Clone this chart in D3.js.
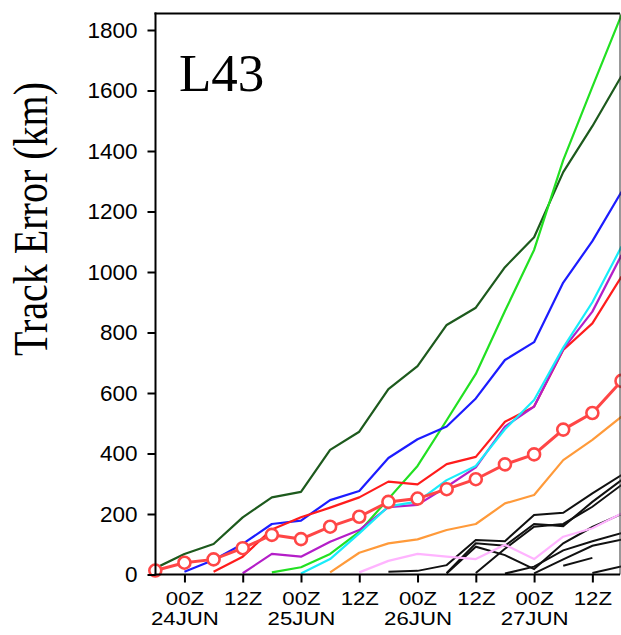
<!DOCTYPE html>
<html>
<head>
<meta charset="utf-8">
<script src="https://cdn.jsdelivr.net/npm/d3@7"></script>
<style>
  body { margin: 0; background: #fff; }
  svg { display: block; }
</style>
</head>
<body>
<div id="chart"></div>
<script>
// six-hourly valid times, 18Z 23JUN .. 18Z 27JUN
const times = [
  "2000-06-23T18:00Z", "2000-06-24T00:00Z", "2000-06-24T06:00Z", "2000-06-24T12:00Z",
  "2000-06-24T18:00Z", "2000-06-25T00:00Z", "2000-06-25T06:00Z", "2000-06-25T12:00Z",
  "2000-06-25T18:00Z", "2000-06-26T00:00Z", "2000-06-26T06:00Z", "2000-06-26T12:00Z",
  "2000-06-26T18:00Z", "2000-06-27T00:00Z", "2000-06-27T06:00Z", "2000-06-27T12:00Z",
  "2000-06-27T18:00Z"
];
const _ = null;

// track errors (km)
const meanErr   = [13, 39, 50, 87, 131, 117, 158, 191, 240, 251, 282, 315, 364, 397, 479, 534, 640];
const darkGreen = [21, 68, 101, 189, 255, 273, 412, 472, 613, 689, 825, 882, 1016, 1115, 1330, 1482, 1648];
const green     = [_, _, _, _, 7, 24, 68, 141, 250, 359, 510, 663, 871, 1073, 1370, 1612, 1850];
const blue      = [_, 9, 48, 101, 167, 178, 246, 276, 385, 447, 489, 582, 709, 768, 965, 1102, 1265];
const red       = [_, _, 9, 59, 149, 189, 221, 255, 307, 298, 365, 389, 505, 555, 742, 830, 985];
const purple    = [_, _, _, 4, 68, 59, 108, 147, 223, 230, 290, 354, 489, 555, 745, 869, 1056];
const cyan      = [_, _, _, _, _, 3, 51, 136, 225, 241, 312, 359, 480, 577, 750, 900, 1084];
const orange    = [_, _, _, _, _, _, 7, 72, 103, 116, 147, 167, 235, 263, 378, 445, 522];
const pink      = [_, _, _, _, _, _, _, 7, 45, 68, 59, 51, 98, 51, 125, 153, 202];

const black1 = [_, _, _, _, _, _, _, _, 9, 12, 31, 114, 110, 197, 204, 268, 329];
const black2 = [_, _, _, _, _, _, _, _, _, _, 5, 103, 95, 167, 160, 240, 312];
const black3 = [_, _, _, _, _, _, _, _, _, _, 3, 92, 64, 18, 103, 157, 200];
const black4 = [_, _, _, _, _, _, _, _, _, _, _, 5, 85, 158, 167, 224, 296];
const black5 = [_, _, _, _, _, _, _, _, _, _, _, _, 3, 26, 80, 110, 137];
const black6 = [_, _, _, _, _, _, _, _, _, _, _, _, _, 4, 50, 95, 115];
const black7 = [_, _, _, _, _, _, _, _, _, _, _, _, _, _, 29, 55, _];
const black8 = [_, _, _, _, _, _, _, _, _, _, _, _, _, _, _, 5, 27];

const yTicks = [0, 200, 400, 600, 800, 1000, 1200, 1400, 1600, 1800];
const xTicks = [
  "2000-06-24T00:00Z", "2000-06-24T12:00Z", "2000-06-25T00:00Z", "2000-06-25T12:00Z",
  "2000-06-26T00:00Z", "2000-06-26T12:00Z", "2000-06-27T00:00Z", "2000-06-27T12:00Z"
];

const width = 621;
const height = 635;
const plotLeft = 155.5, plotRight = 620, plotTop = 13.5, plotBottom = 574.5;

const svg = d3.select("#chart").append("svg")
  .attr("width", width)
  .attr("height", height);

const dates = times.map((t) => new Date(t));

const x = d3.scaleUtc()
  .domain([dates[0], dates[dates.length - 1]])
  .range([155.3, 621.5]);

const y = d3.scaleLinear()
  .domain([0, 1800])
  .range([plotBottom, 30]);

svg.append("clipPath").attr("id", "clip")
  .append("rect")
  .attr("x", plotLeft).attr("y", plotTop)
  .attr("width", width - plotLeft).attr("height", plotBottom - plotTop);

const line = d3.line()
  .defined((d) => d != null)
  .x((d, i) => x(dates[i]))
  .y((d) => y(d));

const plot = svg.append("g").attr("clip-path", "url(#clip)");

const blacks = [black1, black2, black3, black4, black5, black6, black7, black8];
blacks.forEach((s) => {
  plot.append("path")
    .attr("d", line(s))
    .attr("fill", "none")
    .attr("stroke", "#111")
    .attr("stroke-width", 2);
});

const colored = [
  [pink, "#ffb4ff"],
  [orange, "#ff9a3a"],
  [darkGreen, "#1d5a1d"],
  [green, "#22e022"],
  [blue, "#1c1cff"],
  [red, "#ff1c1c"],
  [purple, "#b41ec8"],
  [cyan, "#18ecfa"]
];
colored.forEach(([s, c]) => {
  plot.append("path")
    .attr("d", line(s))
    .attr("fill", "none")
    .attr("stroke", c)
    .attr("stroke-width", 2.2)
    .attr("stroke-linejoin", "round");
});

// mean error with circles
svg.append("path")
  .attr("d", line(meanErr))
  .attr("fill", "none")
  .attr("stroke", "#ff4646")
  .attr("stroke-width", 3);

svg.selectAll("circle.mean")
  .data(meanErr)
  .enter()
  .append("circle")
  .attr("class", "mean")
  .attr("cx", (d, i) => x(dates[i]))
  .attr("cy", (d) => y(d))
  .attr("r", 6)
  .attr("fill", "#fff")
  .attr("stroke", "#ff4646")
  .attr("stroke-width", 2.6);

// frame
svg.append("line")
  .attr("x1", plotLeft - 1).attr("x2", plotRight)
  .attr("y1", plotTop).attr("y2", plotTop)
  .attr("stroke", "#000").attr("stroke-width", 2);
svg.append("line")
  .attr("x1", plotRight).attr("x2", plotRight)
  .attr("y1", plotTop).attr("y2", plotBottom)
  .attr("stroke", "#333").attr("stroke-width", 1);

// y axis
const yAxis = d3.axisLeft(y)
  .tickValues(yTicks)
  .tickSize(8)
  .tickPadding(10)
  .tickSizeOuter(0)
  .tickFormat(d3.format("d"));

const gy = svg.append("g")
  .attr("transform", `translate(${plotLeft},0)`)
  .call(yAxis);
gy.select(".domain").attr("stroke-width", 2).attr("d", `M0,${plotTop - 1}V${plotBottom + 1}`);
gy.selectAll(".tick line").attr("stroke-width", 2);
gy.selectAll(".tick text")
  .attr("font-family", "'Liberation Sans', Arial, sans-serif")
  .attr("font-size", 22.5)
  .attr("fill", "#000");

// x axis
const fmtHour = d3.utcFormat("%HZ");
const fmtDay = d3.utcFormat("%d%b");

const xAxis = d3.axisBottom(x)
  .tickValues(xTicks.map((t) => new Date(t)))
  .tickSize(8)
  .tickPadding(9)
  .tickSizeOuter(0)
  .tickFormat(fmtHour);

const gx = svg.append("g")
  .attr("transform", `translate(0,${plotBottom})`)
  .call(xAxis);
gx.select(".domain").attr("stroke-width", 2).attr("d", `M${plotLeft - 1},0H${plotRight}`);
gx.selectAll(".tick line").attr("stroke-width", 2);
gx.selectAll(".tick text")
  .attr("font-family", "'Liberation Sans', Arial, sans-serif")
  .attr("font-size", 18.5)
  .attr("fill", "#000")
  .attr("transform", "scale(1.2,1)")
  .each(function (d) {
    if (d.getUTCHours() === 0) {
      d3.select(this).append("tspan")
        .attr("x", 0)
        .attr("dy", "1.08em")
        .text(fmtDay(d).toUpperCase());
    }
  });

// labels
svg.append("text")
  .attr("x", 179)
  .attr("y", 90.5)
  .attr("font-family", "'Liberation Serif', 'Times New Roman', serif")
  .attr("font-size", 53)
  .attr("fill", "#000")
  .text("L43");

svg.append("text")
  .attr("transform", "translate(47,219) scale(1.2,1) rotate(-90)")
  .attr("text-anchor", "middle")
  .attr("font-family", "'Liberation Serif', 'Times New Roman', serif")
  .attr("font-size", 40)
  .attr("fill", "#000")
  .text("Track Error (km)");
</script>
</body>
</html>
